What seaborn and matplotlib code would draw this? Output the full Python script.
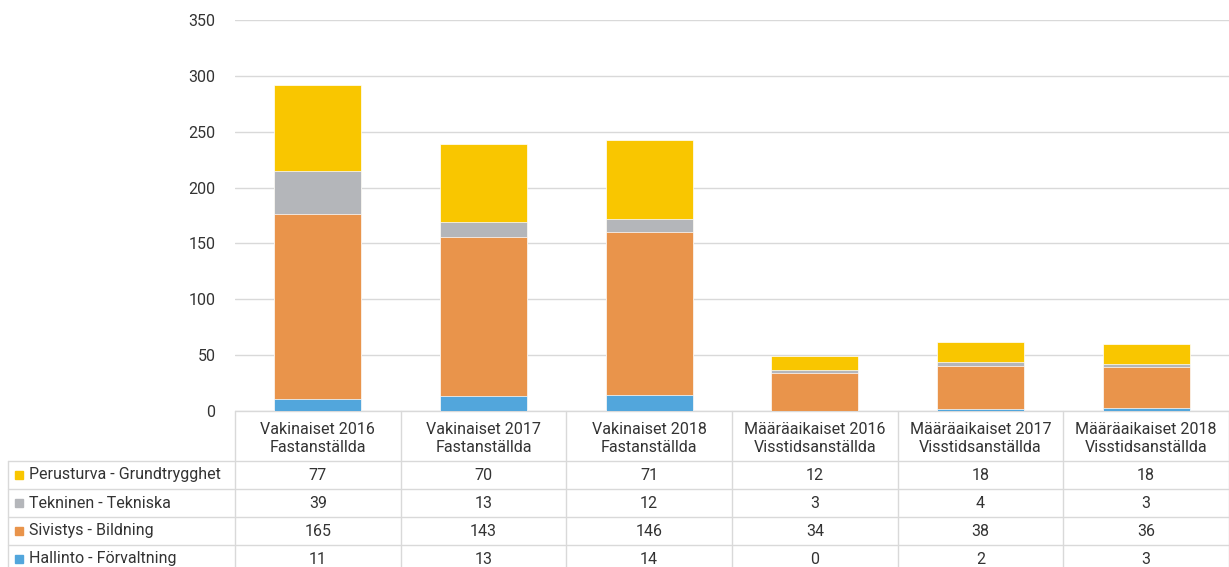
import numpy as np
import pandas as pd
import seaborn as sns
import matplotlib.pyplot as plt
import matplotlib.transforms as mtransforms
from matplotlib.patches import Rectangle

# data
categories = ["Vakinaiset 2016\nFastanställda", "Vakinaiset 2017\nFastanställda",
              "Vakinaiset 2018\nFastanställda", "Määräaikaiset 2016\nVisstidsanställda",
              "Määräaikaiset 2017\nVisstidsanställda", "Määräaikaiset 2018\nVisstidsanställda"]
series = ["Perusturva - Grundtrygghet", "Tekninen - Tekniska",
          "Sivistys - Bildning", "Hallinto - Förvaltning"]
perusturva = [77, 70, 71, 12, 18, 18]
tekninen = [39, 13, 12, 3, 4, 3]
sivistys = [165, 143, 146, 34, 38, 36]
hallinto = [11, 13, 14, 0, 2, 3]
colors = ["#F9C600", "#B4B6BA", "#E9944B", "#52A6DC"]

sns.set_theme(style="white")
plt.rcParams['font.family'] = ['Roboto', 'DejaVu Sans']
text_col = "#333333"
grid_col = "#D9D9D9"
fs = 11.5

W, H = 1229, 567
fig = plt.figure(figsize=(W / 100, H / 100), dpi=100)
ax_l, ax_r, ax_t, ax_b = 235, 1229, 20, 411
ax = fig.add_axes([ax_l / W, 1 - ax_b / H, (ax_r - ax_l) / W, (ax_b - ax_t) / H])

# stacked bars: draw cumulative totals from the top layer down
values = [perusturva, tekninen, sivistys, hallinto]
stack_order = values[::-1]          # bottom -> top
cum = np.cumsum(np.array(stack_order), axis=0)
col_order = colors[::-1]
for i in range(len(stack_order) - 1, -1, -1):
    df = pd.DataFrame({"cat": categories, "val": cum[i]})
    sns.barplot(data=df, x="cat", y="val", color=col_order[i], saturation=1,
                width=0.525, ax=ax, edgecolor="white", linewidth=0.5, zorder=3)

ax.set_ylim(0, 350)
ax.set_xlim(-0.5, len(categories) - 0.5)
ax.set_yticks(range(0, 351, 50))
ax.yaxis.grid(True, color=grid_col, linewidth=1)
ax.set_axisbelow(True)
ax.set_xlabel("")
ax.set_ylabel("")
ax.set_xticklabels([])
ax.tick_params(axis="x", length=0)
ax.tick_params(axis="y", length=0, pad=14, labelsize=fs, labelcolor=text_col)
sns.despine(ax=ax, left=True, bottom=True)

# data table under the chart: x in category units, y in pixels below the axis
trans = mtransforms.blended_transform_factory(ax.transData, ax.transAxes)
n = len(categories)
col_px = (ax_r - ax_l) / n
head_h, row_h = 50, 28
py = 1 / (ax_b - ax_t)                     # one pixel in axes fraction
px = 1 / col_px                            # one pixel in category units
x_lab = -0.5 - (ax_l - 8) * px             # left edge of row label column
x0, x1 = -0.5, n - 0.5
row_tops = [-(head_h + row_h * r) for r in range(len(series) + 1)]
line_kw = dict(color=grid_col, lw=1, transform=trans, clip_on=False)

ax.plot([x0, x1], [0, 0], **line_kw)
for yt in row_tops:
    ax.plot([x_lab, x1], [yt * py, yt * py], **line_kw)
for k in range(n + 1):
    ax.plot([x0 + k, x0 + k], [0, row_tops[-1] * py], **line_kw)
ax.plot([x_lab, x_lab], [row_tops[0] * py, row_tops[-1] * py], **line_kw)

for i, cat in enumerate(categories):
    ax.text(i, -(head_h / 2 + 3) * py, cat, ha="center", va="center", fontsize=fs,
            color=text_col, transform=trans, linespacing=1.25)
for r, (name, vals, colr) in enumerate(zip(series, values, colors)):
    yc = (row_tops[r] - row_h / 2) * py
    ax.add_patch(Rectangle((-0.5 + (15 - ax_l) * px, yc - 4 * py), 8 * px, 8 * py,
                           transform=trans, color=colr, clip_on=False, zorder=5))
    ax.text(-0.5 + (29 - ax_l) * px, yc, name, ha="left", va="center", fontsize=fs,
            color=text_col, transform=trans)
    for i, v in enumerate(vals):
        ax.text(i, yc, str(v), ha="center", va="center", fontsize=fs,
                color=text_col, transform=trans)

fig.savefig("out.png", dpi=100)
